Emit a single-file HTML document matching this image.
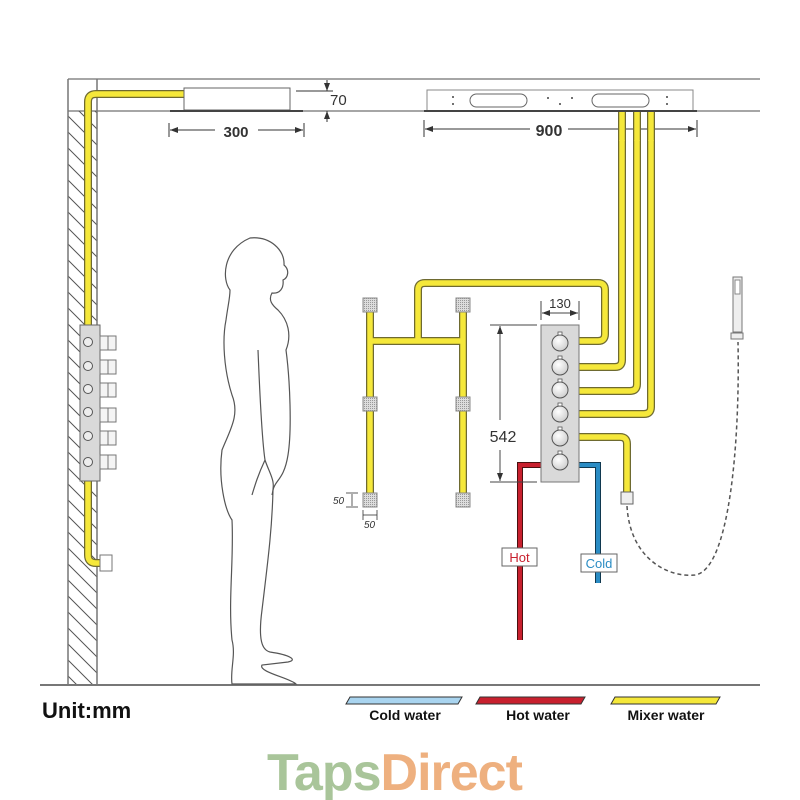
<!DOCTYPE html>
<html><head><meta charset="utf-8"><style>
html,body{margin:0;padding:0;background:#fff;}
svg{display:block;}
</style></head><body>
<svg width="800" height="800" viewBox="0 0 800 800" xmlns="http://www.w3.org/2000/svg" font-family="Liberation Sans, sans-serif">
<defs>
<pattern id="hatch" width="16" height="16" patternUnits="userSpaceOnUse">
<path d="M0,0 L16,16 M-8,8 L8,24 M8,-8 L24,8" stroke="#555" stroke-width="1"/>
</pattern>
<pattern id="grid" width="2" height="2" patternUnits="userSpaceOnUse">
<rect width="2" height="2" fill="#ddd"/><rect width="1" height="1" fill="#999"/>
</pattern>
<radialGradient id="kn" cx="0.4" cy="0.35" r="0.7"><stop offset="0" stop-color="#fff"/><stop offset="1" stop-color="#ccc"/></radialGradient>
<marker id="ar" markerWidth="8" markerHeight="6" refX="8" refY="3" orient="auto"><path d="M0,0 L8,3 L0,6 Z" fill="#333"/></marker>
</defs>
<line x1="68" y1="79" x2="760" y2="79" stroke="#888" stroke-width="1.5"/>
<line x1="68" y1="111" x2="760" y2="111" stroke="#888" stroke-width="1.5"/>
<rect x="68" y="111" width="29" height="574" fill="url(#hatch)"/>
<line x1="68" y1="79" x2="68" y2="685" stroke="#777" stroke-width="1.5"/>
<line x1="97" y1="79" x2="97" y2="685" stroke="#777" stroke-width="1.5"/>
<line x1="40" y1="685" x2="760" y2="685" stroke="#777" stroke-width="2"/>

<g fill="none" stroke-linejoin="round" stroke-linecap="butt">
<g stroke="#6e6a30" stroke-width="8">
<path d="M184,94 H96 Q88,94 88,102 V555 Q88,563 96,563 H100"/>
<path d="M579,341 H598 Q605,341 605,334 V290 Q605,283 598,283 H425 Q418,283 418,290 V341"/>
<path d="M370,305 V500 M463,305 V500 M370,341 H463"/>
<path d="M579,367 H615 Q622,367 622,360 V112"/>
<path d="M579,391 H630 Q637,391 637,384 V112"/>
<path d="M579,414 H644 Q651,414 651,407 V112"/>
<path d="M579,437 H620 Q627,437 627,444 V492"/>
</g>
<g stroke="#f5e83a" stroke-width="5.5">
<path d="M184,94 H96 Q88,94 88,102 V555 Q88,563 96,563 H100"/>
<path d="M579,341 H598 Q605,341 605,334 V290 Q605,283 598,283 H425 Q418,283 418,290 V341"/>
<path d="M370,305 V500 M463,305 V500 M370,341 H463"/>
<path d="M579,367 H615 Q622,367 622,360 V112"/>
<path d="M579,391 H630 Q637,391 637,384 V112"/>
<path d="M579,414 H644 Q651,414 651,407 V112"/>
<path d="M579,437 H620 Q627,437 627,444 V492"/>
</g>
</g>
<rect x="100" y="555" width="12" height="16" fill="#fff" stroke="#777"/>

<rect x="184" y="88" width="106" height="22" fill="#fff" stroke="#666"/>
<line x1="170" y1="111" x2="303" y2="111" stroke="#444" stroke-width="2"/>
<g stroke="#333" stroke-width="1">
<line x1="169" y1="123" x2="169" y2="137"/><line x1="304" y1="123" x2="304" y2="137"/>
<line x1="215" y1="130" x2="170" y2="130" marker-end="url(#ar)"/><line x1="258" y1="130" x2="303" y2="130" marker-end="url(#ar)"/>
<line x1="296" y1="91" x2="333" y2="91"/>
<line x1="327" y1="80" x2="327" y2="91" marker-end="url(#ar)"/>
<line x1="327" y1="122" x2="327" y2="111" marker-end="url(#ar)"/>
</g>
<text x="236" y="137" font-size="15" font-weight="bold" fill="#333" text-anchor="middle">300</text>
<text x="330" y="105" font-size="15" fill="#333">70</text>

<rect x="427" y="90" width="266" height="21" fill="#fff" stroke="#888"/>
<line x1="424" y1="111" x2="697" y2="111" stroke="#444" stroke-width="2"/>
<rect x="470" y="94" width="57" height="13" rx="6.5" fill="#fff" stroke="#666"/>
<rect x="592" y="94" width="57" height="13" rx="6.5" fill="#fff" stroke="#666"/>
<g fill="#444"><circle cx="453" cy="97" r="1"/><circle cx="453" cy="104" r="1"/><circle cx="548" cy="98" r="1"/><circle cx="560" cy="104" r="1"/><circle cx="572" cy="98" r="1"/><circle cx="667" cy="97" r="1"/><circle cx="667" cy="104" r="1"/></g>
<g stroke="#333"><line x1="424" y1="120" x2="424" y2="137"/><line x1="697" y1="120" x2="697" y2="137"/>
<line x1="530" y1="129" x2="425" y2="129" marker-end="url(#ar)"/><line x1="568" y1="129" x2="696" y2="129" marker-end="url(#ar)"/></g>
<text x="549" y="136" font-size="16" font-weight="bold" fill="#333" text-anchor="middle">900</text>
<g stroke="#6e6a30" stroke-width="8"><line x1="622" y1="112" x2="622" y2="140"/><line x1="637" y1="112" x2="637" y2="140"/><line x1="651" y1="112" x2="651" y2="140"/></g>
<g stroke="#f5e83a" stroke-width="5.5"><line x1="622" y1="112" x2="622" y2="141"/><line x1="637" y1="112" x2="637" y2="141"/><line x1="651" y1="112" x2="651" y2="141"/></g>

<g fill="url(#grid)" stroke="#888">
<rect x="363" y="298" width="14" height="14"/><rect x="456" y="298" width="14" height="14"/>
<rect x="363" y="397" width="14" height="14"/><rect x="456" y="397" width="14" height="14"/>
<rect x="363" y="493" width="14" height="14"/><rect x="456" y="493" width="14" height="14"/>
</g>
<g stroke="#333" stroke-width="0.8"><line x1="346" y1="493" x2="358" y2="493"/><line x1="346" y1="507" x2="358" y2="507"/><line x1="352" y1="494" x2="352" y2="506"/>
<line x1="363" y1="510" x2="363" y2="520"/><line x1="377" y1="510" x2="377" y2="520"/><line x1="363" y1="515" x2="377" y2="515"/></g>
<text x="333" y="504" font-size="10" font-style="italic" fill="#333">50</text>
<text x="364" y="528" font-size="10" font-style="italic" fill="#333">50</text>

<path d="M541,465 H520 V640" fill="none" stroke="#4a1010" stroke-width="6"/>
<path d="M541,465 H520 V640" fill="none" stroke="#c8202e" stroke-width="4"/>
<path d="M579,465 H598 V583" fill="none" stroke="#10384f" stroke-width="6"/>
<path d="M579,465 H598 V583" fill="none" stroke="#2a8cc4" stroke-width="4"/>
<rect x="502" y="548" width="35" height="18" fill="#fff" stroke="#666"/>
<text x="519.5" y="562" font-size="13" fill="#c8202e" text-anchor="middle">Hot</text>
<rect x="581" y="554" width="36" height="18" fill="#fff" stroke="#666"/>
<text x="599" y="568" font-size="13" fill="#2a8cc4" text-anchor="middle">Cold</text>

<rect x="541" y="325" width="38" height="157" fill="#d9d9d9" stroke="#777"/>
<g fill="url(#kn)" stroke="#555">
<circle cx="560" cy="343" r="8"/><circle cx="560" cy="367" r="8"/><circle cx="560" cy="390" r="8"/><circle cx="560" cy="414" r="8"/><circle cx="560" cy="438" r="8"/><circle cx="560" cy="462" r="8"/>
</g>
<g fill="#fff" stroke="#555" stroke-width="0.8"><rect x="558" y="332" width="4" height="3"/><rect x="558" y="356" width="4" height="3"/><rect x="558" y="379" width="4" height="3"/><rect x="558" y="403" width="4" height="3"/><rect x="558" y="427" width="4" height="3"/><rect x="558" y="451" width="4" height="3"/></g>
<g stroke="#444"><line x1="541" y1="301" x2="541" y2="320"/><line x1="579" y1="301" x2="579" y2="320"/><line x1="560" y1="313" x2="542" y2="313" marker-end="url(#ar)"/><line x1="560" y1="313" x2="578" y2="313" marker-end="url(#ar)"/>
<line x1="490" y1="325" x2="537" y2="325"/><line x1="490" y1="482" x2="537" y2="482"/><line x1="500" y1="420" x2="500" y2="326" marker-end="url(#ar)"/><line x1="500" y1="450" x2="500" y2="481" marker-end="url(#ar)"/></g>
<text x="560" y="308" font-size="13" fill="#333" text-anchor="middle">130</text>
<text x="503" y="442" font-size="16" fill="#333" text-anchor="middle">542</text>

<rect x="621" y="492" width="12" height="12" fill="#eee" stroke="#666"/>
<path d="M627,506 C630,560 670,578 695,575 C730,570 740,440 738,342" fill="none" stroke="#555" stroke-width="1.5" stroke-dasharray="4,3"/>
<rect x="733" y="277" width="9" height="55" fill="#eee" stroke="#777"/>
<rect x="735" y="280" width="5" height="14" fill="#fff" stroke="#888"/>
<rect x="731" y="333" width="12" height="6" fill="#eee" stroke="#777"/>

<rect x="80" y="325" width="20" height="156" fill="#d9d9d9" stroke="#666"/>
<g fill="#eee" stroke="#555"><circle cx="88" cy="342" r="4.5"/><circle cx="88" cy="366" r="4.5"/><circle cx="88" cy="389" r="4.5"/><circle cx="88" cy="412" r="4.5"/><circle cx="88" cy="436" r="4.5"/><circle cx="88" cy="462" r="4.5"/></g>
<g fill="#f4f4f4" stroke="#777">
<rect x="100" y="336" width="8" height="14"/><rect x="108" y="336" width="8" height="14"/>
<rect x="100" y="360" width="8" height="14"/><rect x="108" y="360" width="8" height="14"/>
<rect x="100" y="383" width="8" height="14"/><rect x="108" y="383" width="8" height="14"/>
<rect x="100" y="408" width="8" height="14"/><rect x="108" y="408" width="8" height="14"/>
<rect x="100" y="431" width="8" height="14"/><rect x="108" y="431" width="8" height="14"/>
<rect x="100" y="455" width="8" height="14"/><rect x="108" y="455" width="8" height="14"/>
</g>

<path d="M250,238 C270,236 285,250 284,265 C290,270 288,278 283,280 C284,288 280,294 272,293 C268,300 272,305 278,310 C288,320 292,335 286,350 C290,380 292,430 288,455 C284,480 275,480 273,490 C272,530 268,560 262,610 C258,640 262,650 270,652 C290,655 298,660 288,662 L262,665 C258,672 290,678 296,684 L232,684 C230,670 236,655 232,640 C228,600 234,560 232,520 C225,510 218,480 222,450 C230,430 240,415 232,395 C224,370 222,340 226,320 C228,305 230,298 230,290 C222,280 222,250 250,238 Z" fill="#fff" stroke="#555" stroke-width="1.2"/>
<path d="M258,350 C260,400 262,440 265,460 C270,475 276,480 272,495 M265,460 C258,475 255,485 252,495" fill="none" stroke="#555" stroke-width="1.2"/>

<polygon points="350,697 462,697 458,704 346,704" fill="#a9d4ef" stroke="#333"/>
<polygon points="480,697 585,697 581,704 476,704" fill="#c8202e" stroke="#333"/>
<polygon points="615,697 720,697 716,704 611,704" fill="#f5e83a" stroke="#333"/>
<text x="405" y="720" font-size="14" font-weight="bold" fill="#111" text-anchor="middle">Cold water</text>
<text x="538" y="720" font-size="14" font-weight="bold" fill="#111" text-anchor="middle">Hot water</text>
<text x="666" y="720" font-size="14" font-weight="bold" fill="#111" text-anchor="middle">Mixer water</text>
<text x="42" y="718" font-size="22" font-weight="bold" fill="#111">Unit:mm</text>

<text x="267" y="790" font-size="52" font-weight="bold" letter-spacing="-1"><tspan fill="#a9c59a">Taps</tspan><tspan fill="#eeb07f">Direct</tspan></text>
</svg>
</body></html>
